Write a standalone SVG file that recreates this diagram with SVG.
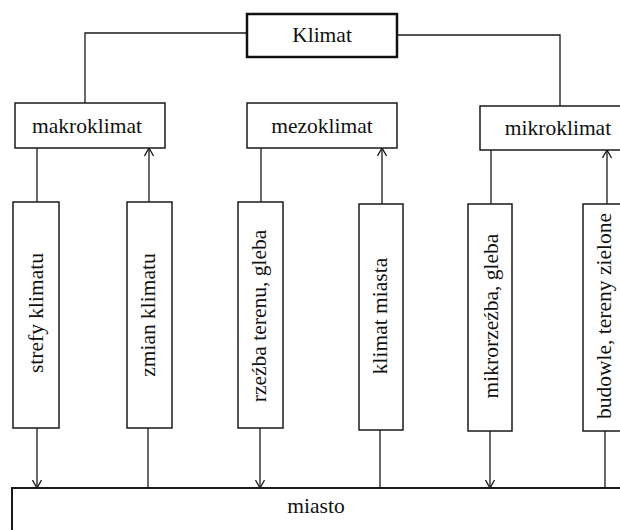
<svg xmlns="http://www.w3.org/2000/svg" width="620" height="530" viewBox="0 0 620 530">
<style>
.box{fill:#fff;stroke:#1a1a1a;stroke-width:1.5}
.main{fill:#fff;stroke:#111;stroke-width:2.5}
.t{font-family:"Liberation Serif","Times New Roman",serif;font-size:21.5px;fill:#111;text-anchor:middle}
.ln{fill:none;stroke:#1a1a1a;stroke-width:1.3}
</style>
<defs>
<marker id="ah" viewBox="0 0 10 10" refX="10" refY="5" markerWidth="10" markerHeight="10" markerUnits="userSpaceOnUse" orient="auto">
<polyline points="2,0.5 10,5 2,9.5" fill="none" stroke="#1a1a1a" stroke-width="1.3"/>
</marker>
</defs>
<rect width="620" height="530" fill="#fff"/>
<g id="connectors">
<polyline class="ln" points="247,33 85,33 85,103"/>
<polyline class="ln" points="397,35 560,35 560,106"/>
<line class="ln" x1="37" y1="148" x2="37" y2="202"/>
<line class="ln" x1="37" y1="428" x2="37" y2="488" marker-end="url(#ah)"/>
<line class="ln" x1="149" y1="202" x2="149" y2="148" marker-end="url(#ah)"/>
<line class="ln" x1="148" y1="428" x2="148" y2="488"/>
<line class="ln" x1="261" y1="148" x2="261" y2="202"/>
<line class="ln" x1="260" y1="428" x2="260" y2="488" marker-end="url(#ah)"/>
<line class="ln" x1="382" y1="204" x2="382" y2="148" marker-end="url(#ah)"/>
<line class="ln" x1="380" y1="430" x2="380" y2="488"/>
<line class="ln" x1="491" y1="150" x2="491" y2="204"/>
<line class="ln" x1="490" y1="431" x2="490" y2="488" marker-end="url(#ah)"/>
<line class="ln" x1="607" y1="204" x2="607" y2="150" marker-end="url(#ah)"/>
<line class="ln" x1="605" y1="431" x2="605" y2="488"/>
</g>
<g id="klimat">
<rect class="main" x="247" y="14" width="150" height="43"/>
<text class="t" x="322" y="42">Klimat</text>
</g>
<g id="makroklimat">
<rect class="box" x="15" y="103" width="150" height="45"/>
<text class="t" x="87" y="133">makroklimat</text>
</g>
<g id="mezoklimat">
<rect class="box" x="247" y="103" width="150" height="45"/>
<text class="t" x="322" y="133">mezoklimat</text>
</g>
<g id="mikroklimat">
<rect class="box" x="480" y="106" width="150" height="44"/>
<text class="t" x="558" y="135">mikroklimat</text>
</g>
<g id="strefy">
<rect class="box" x="13" y="202" width="46" height="226"/>
<text class="t" transform="translate(43,313) rotate(-90)">strefy klimatu</text>
</g>
<g id="zmian">
<rect class="box" x="127" y="202" width="45" height="226"/>
<text class="t" transform="translate(155,315) rotate(-90)">zmian klimatu</text>
</g>
<g id="rzezba">
<rect class="box" x="238" y="202" width="45" height="226"/>
<text class="t" transform="translate(266,316) rotate(-90)">rzeźba terenu, gleba</text>
</g>
<g id="klimat-miasta">
<rect class="box" x="359" y="204" width="44" height="226"/>
<text class="t" transform="translate(387,316) rotate(-90)">klimat miasta</text>
</g>
<g id="mikrorzezba">
<rect class="box" x="468" y="204" width="44" height="227"/>
<text class="t" transform="translate(498,316) rotate(-90)">mikrorzeźba, gleba</text>
</g>
<g id="budowle">
<rect class="box" x="583" y="204" width="45" height="227"/>
<text class="t" transform="translate(611,316) rotate(-90)">budowle, tereny zielone</text>
</g>
<g id="miasto">
<rect class="box" x="12" y="488" width="620" height="50" style="stroke-width:2"/>
<text class="t" x="316" y="513">miasto</text>
</g>
</svg>
